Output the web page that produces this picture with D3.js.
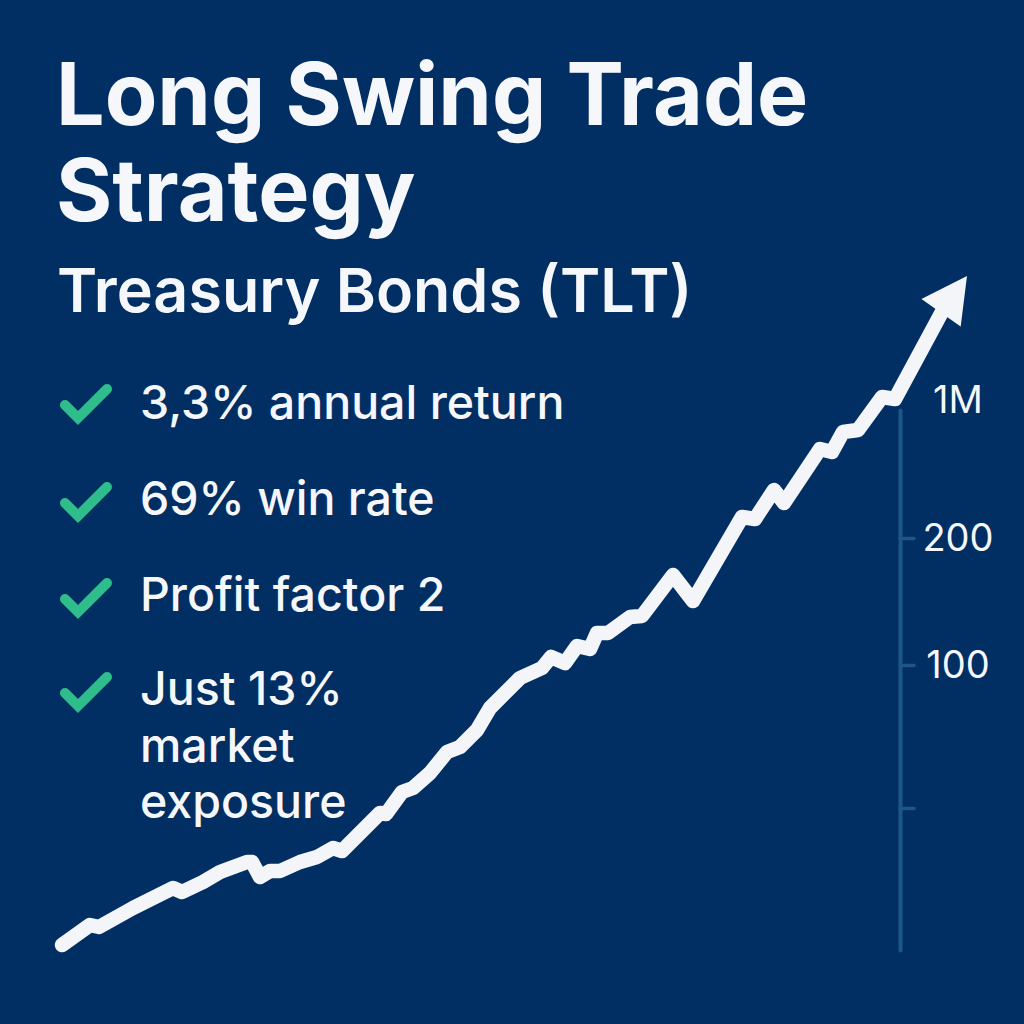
<!DOCTYPE html>
<html>
<head>
<meta charset="utf-8">
<script src="https://cdn.jsdelivr.net/npm/d3@7"></script>
<style>
  html, body { margin: 0; padding: 0; background: #012e63; }
  svg { display: block; }
  text { font-family: Inter, sans-serif; fill: #f6f7fa; }
</style>
</head>
<body>
<div id="chart"></div>
<script>
var titleLines = ["Long Swing Trade", "Strategy"];
var subtitle = "Treasury Bonds (TLT)";
var bullets = [
    ["3,3% annual return"],
    ["69% win rate"],
    ["Profit factor 2"],
    ["Just 13%", "market", "exposure"]
];

// equity curve (chart units)
var periods = [0, 14, 18.5, 35.5, 55.5, 60, 70.5, 79, 92.5, 95, 99, 104, 109, 119, 127.5, 135.5, 140, 159, 162, 170, 175.5, 184, 192.5, 199, 207.5, 214, 229, 240, 244.5, 251.5, 257.5, 264, 267.5, 273, 284, 290, 305.5, 315.5, 340, 346.5, 356, 361, 379, 385, 390.5, 398, 410, 416.5, 440.5];
var equity = [1.5, 11.5, 10.5, 20, 30, 28, 33, 38, 43, 43, 35.5, 38.5, 38.5, 43, 45.5, 50, 48.5, 67.5, 67, 78, 80, 87.5, 98, 100.5, 109, 120, 135, 140, 145.5, 142.5, 151, 149.5, 157.5, 157.5, 165.5, 166, 186.5, 173.5, 215.5, 214.5, 229, 222.5, 249.5, 248, 258, 259, 275.5, 274.5, 319];
var arrowTip = [452.5, 336];

// right hand scale
var tickPositions = [274, 205, 141.5, 70];
var tickLabels = ["1M", "200", "100", ""];

var width = 1024, height = 1024;

var svg = d3.select("#chart").append("svg")
    .attr("width", width)
    .attr("height", height);

svg.append("rect")
    .attr("width", width)
    .attr("height", height)
    .attr("fill", "#012e63");

var x = d3.scaleLinear().domain([0, 452]).range([62, 966]);
var y = d3.scaleLinear().domain([0, 340]).range([948, 268]);

// scale
var axisScale = y.copy().domain([-1, 269]).range([y(-1), y(269)]);
var yAxis = d3.axisRight(axisScale)
    .tickValues(tickPositions)
    .tickFormat(function(d, i) { return tickLabels[i]; })
    .tickSize(14)
    .tickSizeOuter(0)
    .tickPadding(44);

var axisG = svg.append("g")
    .attr("transform", "translate(900,0)")
    .call(yAxis);

axisG.select(".domain")
    .attr("stroke", "#1d5688")
    .attr("stroke-width", 4)
    .attr("stroke-linecap", "round");

axisG.selectAll(".tick line")
    .attr("stroke", "#1d5688")
    .attr("stroke-width", 3.5)
    .attr("stroke-linecap", "round")
    .attr("display", function(d, i) { return tickLabels[i] === "1M" ? "none" : null; });

axisG.selectAll(".tick text")
    .attr("text-anchor", "middle")
    .style("font-family", "Inter, sans-serif")
    .style("font-size", "38px")
    .style("font-weight", 400)
    .attr("fill", "#f6f7fa");

// equity line
var line = d3.line()
    .x(function(d) { return x(d[0]); })
    .y(function(d) { return y(d[1]); });

var points = periods.map(function(p, i) { return [p, equity[i]]; });

svg.append("path")
    .datum(points)
    .attr("d", line)
    .attr("fill", "none")
    .attr("stroke", "#f3f5f8")
    .attr("stroke-width", 14.5)
    .attr("stroke-linecap", "round")
    .attr("stroke-linejoin", "round");

// arrow head pointing along the last segment
var last = points[points.length - 1];
var tipX = x(arrowTip[0]), tipY = y(arrowTip[1]);
var angle = Math.atan2(tipY - y(last[1]), tipX - x(last[0]));
var headLength = 45, headHalf = 24;
var baseX = tipX - headLength * Math.cos(angle);
var baseY = tipY - headLength * Math.sin(angle);

svg.append("polygon")
    .attr("points", [
        [tipX, tipY],
        [baseX + headHalf * Math.sin(angle), baseY - headHalf * Math.cos(angle)],
        [baseX - headHalf * Math.sin(angle), baseY + headHalf * Math.cos(angle)]
    ].map(function(p) { return p.join(","); }).join(" "))
    .attr("fill", "#f3f5f8");

// titles
svg.selectAll(".title")
    .data(titleLines)
    .enter()
    .append("text")
    .attr("class", "title")
    .attr("x", 56)
    .attr("y", function(d, i) { return 125 + i * 96; })
    .style("font-size", "86px")
    .style("font-weight", 700)
    .text(function(d) { return d; });

svg.append("text")
    .attr("x", 57)
    .attr("y", 312)
    .style("font-size", "61px")
    .style("font-weight", 600)
    .text(subtitle);

// bullet list
var bulletBase = [419, 515, 611, 705];
var checkBottom = [419, 517, 613, 707];

var bullet = svg.selectAll(".bullet")
    .data(bullets)
    .enter()
    .append("g")
    .attr("class", "bullet");

bullet.append("path")
    .attr("d", function(d, i) {
        var b = checkBottom[i];
        return "M65," + (b - 14) + "L78," + (b - 1) + "L107," + (b - 30);
    })
    .attr("fill", "none")
    .attr("stroke", "#2fbd8b")
    .attr("stroke-width", 10)
    .attr("stroke-linecap", "round")
    .attr("stroke-linejoin", "miter");

bullet.each(function(lines, i) {
    d3.select(this).selectAll("text")
        .data(lines)
        .enter()
        .append("text")
        .attr("x", 140)
        .attr("y", function(d, j) { return bulletBase[i] + j * 56.5; })
        .style("font-size", "46.5px")
        .style("font-weight", 500)
        .text(function(d) { return d; });
});
</script>
</body>
</html>
